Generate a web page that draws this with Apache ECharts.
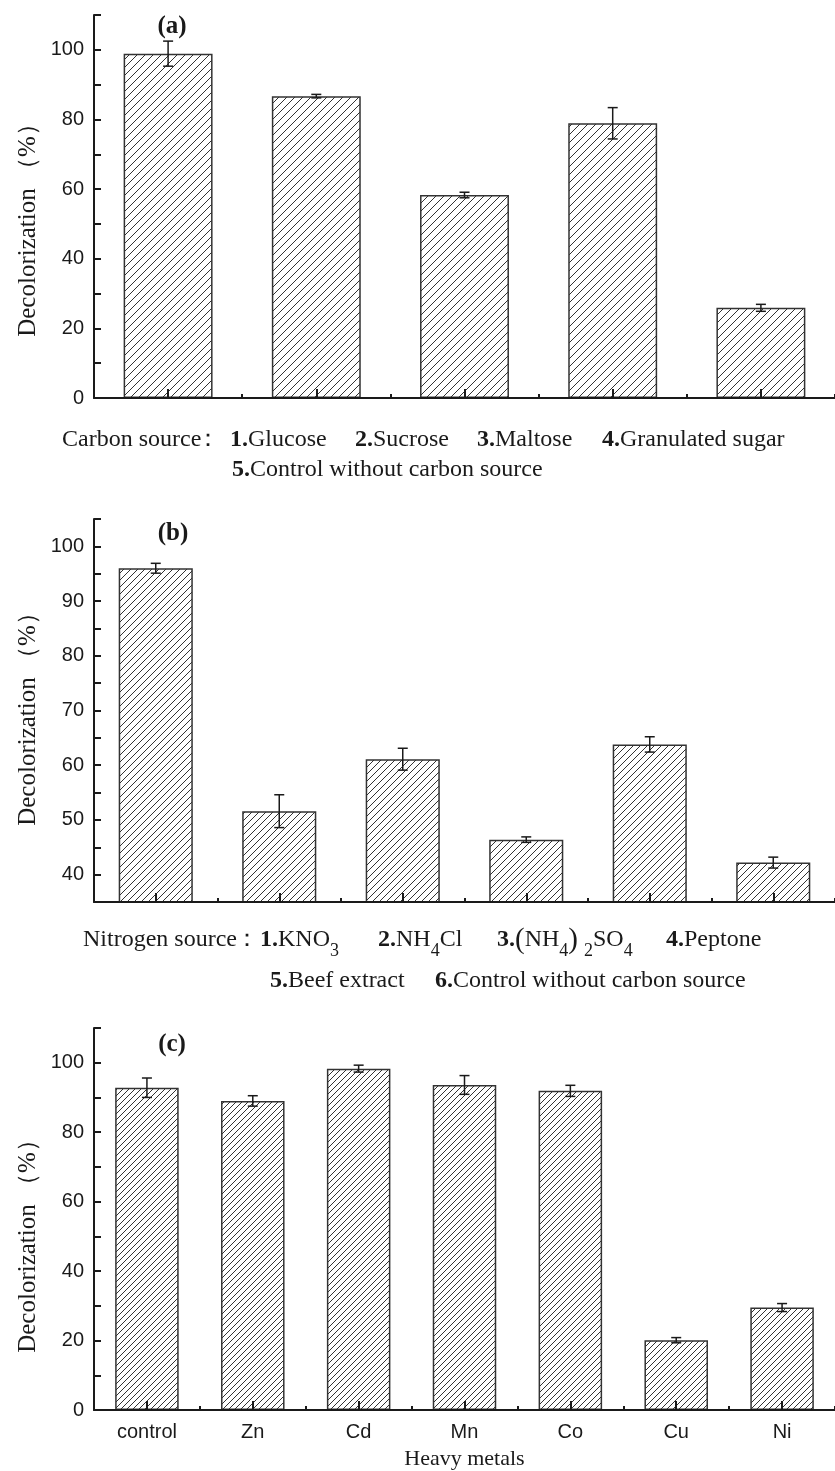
<!DOCTYPE html>
<html>
<head>
<meta charset="utf-8">
<script src="https://cdn.jsdelivr.net/npm/echarts@6/dist/echarts.min.js"></script>
<style>
  html, body { margin: 0; padding: 0; background: #fff; }
  #main { width: 835px; height: 1471px; }
</style>
</head>
<body>
<div id="main"></div>
<script>
// (a) carbon source
const carbonCats = ['1', '2', '3', '4', '5'];
const carbonVals = [98.9, 86.7, 58.3, 78.9, 25.9];
const carbonErr = [3.6, 0.5, 0.8, 4.5, 1.0];
const carbonTicks = [0, 20, 40, 60, 80, 100];

// (b) nitrogen source
const nitroCats = ['1', '2', '3', '4', '5', '6'];
const nitroVals = [96.0, 51.6, 61.1, 46.4, 63.8, 42.2];
const nitroErr = [0.9, 3.0, 2.0, 0.5, 1.4, 1.0];
const nitroTicks = [40, 50, 60, 70, 80, 90, 100];

// (c) heavy metals
const metalCats = ['control', 'Zn', 'Cd', 'Mn', 'Co', 'Cu', 'Ni'];
const metalVals = [92.8, 89.0, 98.3, 93.6, 91.9, 20.1, 29.5];
const metalErr = [2.8, 1.5, 1.0, 2.7, 1.6, 0.75, 1.15];
const metalTicks = [0, 20, 40, 60, 80, 100];

const SERIF = '"Liberation Serif", "Times New Roman", serif';
const SANS = '"Liberation Sans", Arial, sans-serif';
const INK = '#1a1a1a';

// diagonal "/" hatch fill
function hatch(step) {
    const c = document.createElement('canvas');
    c.width = step;
    c.height = step;
    const ctx = c.getContext('2d');
    ctx.strokeStyle = '#333';
    ctx.lineWidth = 1;
    ctx.beginPath();
    ctx.moveTo(0, step); ctx.lineTo(step, 0);
    ctx.moveTo(-step / 2, step / 2); ctx.lineTo(step / 2, -step / 2);
    ctx.moveTo(step / 2, step * 1.5); ctx.lineTo(step * 1.5, step / 2);
    ctx.stroke();
    return c;
}

const grids = [
    { left: 94, top: 15, width: 750, height: 383 },
    { left: 94, top: 519, width: 750, height: 383 },
    { left: 94, top: 1028, width: 750, height: 383 }
];

function mainX(gi, cats, showLabel) {
    return {
        type: 'category', gridIndex: gi, data: cats, position: 'bottom', z: 5,
        axisLine: { lineStyle: { color: INK, width: 2 } },
        axisTick: { show: true, inside: true, alignWithLabel: true, length: 9, lineStyle: { color: INK, width: 2 } },
        axisLabel: { show: showLabel, color: INK, fontFamily: SANS, fontSize: 20, margin: 12 },
        splitLine: { show: false }
    };
}
function minorX(gi, cats) {
    return {
        type: 'category', gridIndex: gi, data: cats, position: 'bottom', z: 5,
        axisLine: { show: false },
        axisTick: { show: true, inside: true, length: 4, lineStyle: { color: INK, width: 2 } },
        axisLabel: { show: false },
        splitLine: { show: false }
    };
}
function valueY(gi, min, max, step, ticks) {
    return {
        type: 'value', gridIndex: gi, min: min, max: max, interval: step, z: 5,
        axisLine: { show: true, lineStyle: { color: INK, width: 2 } },
        axisTick: { show: true, inside: true, length: 7, lineStyle: { color: INK, width: 2 } },
        axisLabel: {
            color: INK, fontFamily: SANS, fontSize: 20, margin: 10,
            formatter: v => ticks.includes(v) ? String(v) : ''
        },
        splitLine: { show: false }
    };
}
function bars(gi, vals, step) {
    return {
        type: 'bar', xAxisIndex: gi * 2, yAxisIndex: gi, data: vals, barWidth: '60%',
        itemStyle: { color: { image: hatch(step), repeat: 'repeat' }, borderColor: '#333', borderWidth: 1.5 },
        silent: true
    };
}
function errBars(gi, vals, errs) {
    return {
        type: 'custom', xAxisIndex: gi * 2, yAxisIndex: gi, z: 10, silent: true,
        data: vals.map((v, i) => [i, v, errs[i]]),
        encode: { x: 0, y: 1 },
        renderItem: function (params, api) {
            const i = api.value(0), v = api.value(1), e = api.value(2);
            const hi = api.coord([i, v + e]);
            const lo = api.coord([i, v - e]);
            const w = 5;
            const st = { stroke: INK, lineWidth: 1.5 };
            return {
                type: 'group', children: [
                    { type: 'line', shape: { x1: hi[0], y1: hi[1], x2: lo[0], y2: lo[1] }, style: st },
                    { type: 'line', shape: { x1: hi[0] - w, y1: hi[1], x2: hi[0] + w, y2: hi[1] }, style: st },
                    { type: 'line', shape: { x1: lo[0] - w, y1: lo[1], x2: lo[0] + w, y2: lo[1] }, style: st }
                ]
            };
        }
    };
}

// caption pieces: n = normal, b = bold, s = subscript, p = big parenthesis
const kinds = {
    n: { size: 24, weight: 'normal', dy: 0 },
    b: { size: 24, weight: 'bold', dy: 0 },
    s: { size: 18, weight: 'normal', dy: 11 },
    p: { size: 29, weight: 'normal', dy: 0 }
};
const measureCtx = document.createElement('canvas').getContext('2d');
function caption(x, y, parts) {
    const out = [];
    let cx = x;
    parts.forEach(([text, k]) => {
        const kd = kinds[k];
        const font = kd.weight + ' ' + kd.size + 'px ' + SERIF;
        out.push({
            type: 'text', x: cx, y: y + kd.dy, silent: true,
            style: { text: text, font: font, fill: INK, align: 'left', verticalAlign: 'middle' }
        });
        measureCtx.font = font;
        cx += measureCtx.measureText(text).width;
    });
    return out;
}
function yTitle(y) {
    return {
        type: 'text', x: 28, y: y, rotation: Math.PI / 2, silent: true,
        style: { text: 'Decolorization （%）', fontSize: 25, fontFamily: SERIF, fill: INK, align: 'center', verticalAlign: 'middle' }
    };
}
function letter(x, y, t) {
    return {
        type: 'text', x: x, y: y, silent: true,
        style: { text: t, fontSize: 25, fontWeight: 'bold', fontFamily: SERIF, fill: INK, align: 'center', verticalAlign: 'middle' }
    };
}
function colon(x, y) {
    return {
        type: 'text', x: x, y: y, silent: true,
        style: { text: '：', fontSize: 24, fontFamily: SERIF, fill: INK, align: 'center', verticalAlign: 'middle' }
    };
}

const option = {
    backgroundColor: '#fff',
    animation: false,
    grid: grids,
    xAxis: [
        mainX(0, carbonCats, false), minorX(0, carbonCats),
        mainX(1, nitroCats, false), minorX(1, nitroCats),
        Object.assign(mainX(2, metalCats, true), {
            name: 'Heavy metals', nameLocation: 'middle', nameGap: 38,
            nameTextStyle: { color: INK, fontFamily: SERIF, fontSize: 22 }
        }),
        minorX(2, metalCats)
    ],
    yAxis: [
        valueY(0, 0, 110, 10, carbonTicks),
        valueY(1, 35, 105, 5, nitroTicks),
        valueY(2, 0, 110, 10, metalTicks)
    ],
    series: [
        bars(0, carbonVals, 8), errBars(0, carbonVals, carbonErr),
        bars(1, nitroVals, 7), errBars(1, nitroVals, nitroErr),
        bars(2, metalVals, 6), errBars(2, metalVals, metalErr)
    ],
    graphic: [
        letter(172, 27, '(a)'),
        letter(173, 534, '(b)'),
        letter(172, 1045, '(c)'),
        yTitle(224), yTitle(713), yTitle(1240),
        colon(208, 440),
        colon(247, 940)
    ].concat(
        caption(62, 440, [['Carbon source', 'n']]),
        caption(230, 440, [['1.', 'b'], ['Glucose', 'n']]),
        caption(355, 440, [['2.', 'b'], ['Sucrose', 'n']]),
        caption(477, 440, [['3.', 'b'], ['Maltose', 'n']]),
        caption(602, 440, [['4.', 'b'], ['Granulated sugar', 'n']]),
        caption(232, 470, [['5.', 'b'], ['Control without carbon source', 'n']]),
        caption(83, 940, [['Nitrogen source', 'n']]),
        caption(260, 940, [['1.', 'b'], ['KNO', 'n'], ['3', 's']]),
        caption(378, 940, [['2.', 'b'], ['NH', 'n'], ['4', 's'], ['Cl', 'n']]),
        caption(497, 940, [['3.', 'b'], ['(', 'p'], ['NH', 'n'], ['4', 's'], [')', 'p'], [' ', 'n'], ['2', 's'], ['SO', 'n'], ['4', 's']]),
        caption(666, 940, [['4.', 'b'], ['Peptone', 'n']]),
        caption(270, 981, [['5.', 'b'], ['Beef extract', 'n']]),
        caption(435, 981, [['6.', 'b'], ['Control without carbon source', 'n']])
    )
};

const chart = echarts.init(document.getElementById('main'), null, { renderer: 'canvas' });
chart.setOption(option);
window.addEventListener('resize', () => chart.resize());
</script>
</body>
</html>
